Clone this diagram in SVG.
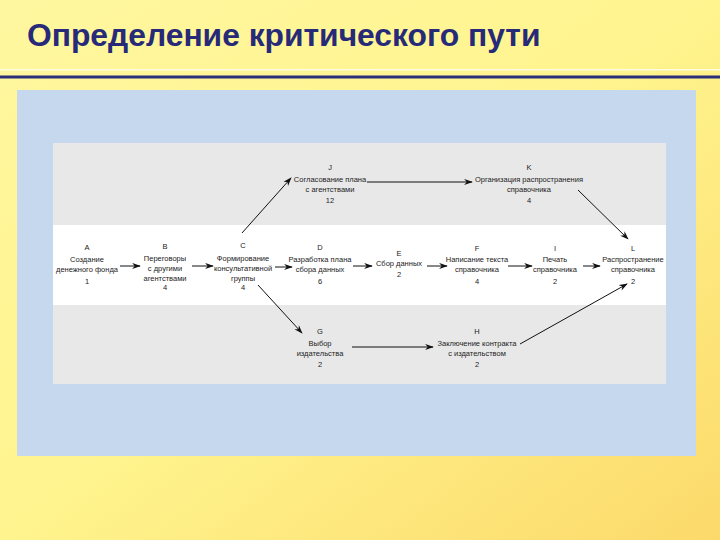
<svg xmlns="http://www.w3.org/2000/svg" width="720" height="540" viewBox="0 0 720 540">
<defs>
<linearGradient id="bg" x1="0" y1="0" x2="1" y2="1">
<stop offset="0" stop-color="#fff7a0"/>
<stop offset="0.5" stop-color="#fff48e"/>
<stop offset="1" stop-color="#fcd96a"/>
</linearGradient>
<marker id="ah" viewBox="0 0 10 8" refX="9" refY="4" markerWidth="9" markerHeight="7" markerUnits="userSpaceOnUse" orient="auto">
<path d="M0,0.5 L10,4 L0,7.5 L3,4 z" fill="#111"/>
</marker>
<style>
.t{font-family:"Liberation Sans",Arial,sans-serif;font-size:7.5px;fill:#222;text-anchor:middle}
.c line{stroke:#111;stroke-width:1;marker-end:url(#ah)}
</style>
</defs>
<rect width="720" height="540" fill="url(#bg)"/>
<text x="27" y="46" font-family="Liberation Sans,Arial,sans-serif" font-weight="bold" font-size="31.8" fill="#262a78">Определение критического пути</text>
<rect x="0" y="69" width="720" height="1.5" fill="#fffbe0"/>
<rect x="0" y="75.5" width="720" height="3" fill="#2b2f7a"/>
<rect x="17" y="90" width="679" height="366" fill="#c6d8ee"/>
<rect x="53" y="143" width="613" height="82" fill="#e8e8e8"/>
<rect x="53" y="225" width="613" height="80" fill="#ffffff"/>
<rect x="53" y="305" width="613" height="79" fill="#e8e8e8"/>

<g class="c" id="connectors">
<line x1="120" y1="266" x2="140" y2="266"/>
<line x1="192" y1="266" x2="213" y2="266"/>
<line x1="275" y1="267" x2="292" y2="267"/>
<line x1="353" y1="266" x2="372" y2="266"/>
<line x1="427" y1="266" x2="447" y2="266"/>
<line x1="508" y1="266" x2="532" y2="266"/>
<line x1="583" y1="266" x2="600" y2="266"/>
<line x1="242" y1="233" x2="291" y2="178"/>
<line x1="367" y1="182" x2="472" y2="182"/>
<line x1="578" y1="190" x2="628" y2="239"/>
<line x1="258" y1="285" x2="302" y2="333"/>
<line x1="352" y1="347" x2="433" y2="347"/>
<line x1="520" y1="344" x2="627" y2="284"/>
</g>

<g id="A" class="t"><text x="87" y="250">A</text><text x="87" y="262">Создание</text><text x="87" y="272">денежного фонда</text><text x="87" y="284">1</text></g>
<g id="B" class="t"><text x="165" y="249">B</text><text x="165" y="261">Переговоры</text><text x="165" y="271">с другими</text><text x="165" y="281">агентствами</text><text x="165" y="290">4</text></g>
<g id="C" class="t"><text x="243" y="248">C</text><text x="243" y="261">Формирование</text><text x="243" y="271">консультативной</text><text x="243" y="281">группы</text><text x="243" y="290">4</text></g>
<g id="D" class="t"><text x="320" y="250">D</text><text x="320" y="262">Разработка плана</text><text x="320" y="272">сбора данных</text><text x="320" y="284">6</text></g>
<g id="E" class="t"><text x="399" y="256">E</text><text x="399" y="266">Сбор данных</text><text x="399" y="277">2</text></g>
<g id="F" class="t"><text x="477" y="251">F</text><text x="477" y="262">Написание текста</text><text x="477" y="272">справочника</text><text x="477" y="284">4</text></g>
<g id="I" class="t"><text x="555" y="251">I</text><text x="555" y="262">Печать</text><text x="555" y="272">справочника</text><text x="555" y="284">2</text></g>
<g id="L" class="t"><text x="633" y="251">L</text><text x="633" y="262">Распространение</text><text x="633" y="272">справочника</text><text x="633" y="284">2</text></g>
<g id="J" class="t"><text x="330" y="170">J</text><text x="330" y="182">Согласование плана</text><text x="330" y="192">с агентствами</text><text x="330" y="203">12</text></g>
<g id="K" class="t"><text x="529" y="170">K</text><text x="529" y="182">Организация распространения</text><text x="529" y="192">справочника</text><text x="529" y="203">4</text></g>
<g id="G" class="t"><text x="320" y="334">G</text><text x="320" y="346">Выбор</text><text x="320" y="356">издательства</text><text x="320" y="367">2</text></g>
<g id="H" class="t"><text x="477" y="334">H</text><text x="477" y="346">Заключение контракта</text><text x="477" y="356">с издательством</text><text x="477" y="367">2</text></g>
</svg>
